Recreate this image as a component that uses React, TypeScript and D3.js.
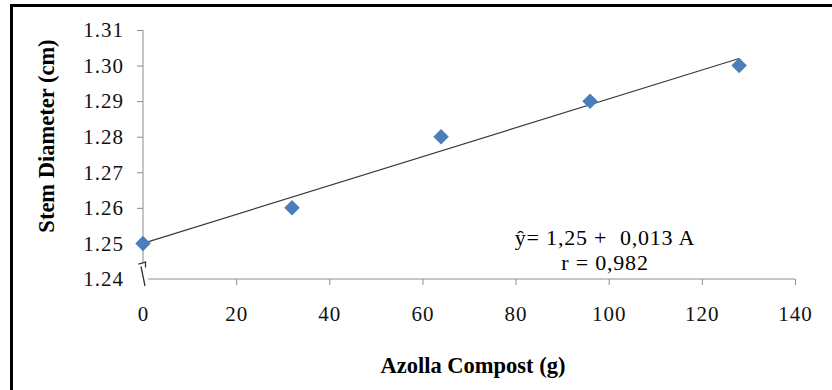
import React, { useEffect, useRef } from 'react';
import * as d3 from 'd3';

// Azolla compost dose (g) vs stem diameter (cm)
const compost = [0, 32, 64, 96, 128];
const stemDiameter = [1.25, 1.26, 1.28, 1.29, 1.3];
const xTicks = [0, 20, 40, 60, 80, 100, 120, 140];
const yTicks = [1.24, 1.25, 1.26, 1.27, 1.28, 1.29, 1.3, 1.31];
const equationLines = ['ŷ= 1,25 +  0,013 A', 'r = 0,982'];

const W = 832;
const H = 390;

const App: React.FC = () => {
  const svgRef = useRef<SVGSVGElement>(null);

  useEffect(() => {
    document.body.style.margin = '0';
    if (!svgRef.current) return;
    const svg = d3.select(svgRef.current);
    svg.selectAll('*').remove();

    const x = d3.scaleLinear().domain([0, 140]).range([143, 795]);
    const y = d3.scaleLinear().domain([1.24, 1.31]).range([279, 30]);
    const axisColor = '#8c8c8c';
    const font = '"Liberation Serif", "Times New Roman", serif';

    svg.append('rect').attr('width', W).attr('height', H).attr('fill', '#fff');

    // frame (top and left edges only)
    svg.append('line').attr('x1', 10).attr('x2', W).attr('y1', 5.5).attr('y2', 5.5)
      .attr('stroke', '#000').attr('stroke-width', 3);
    svg.append('line').attr('x1', 11.5).attr('x2', 11.5).attr('y1', 4).attr('y2', H)
      .attr('stroke', '#000').attr('stroke-width', 3);

    // y axis
    const yAxis = svg.append('g')
      .attr('transform', `translate(${x(0)},0)`)
      .call(d3.axisLeft(y).tickValues(yTicks).tickFormat(d3.format('.2f')).tickSize(6).tickPadding(13));
    yAxis.select('.domain').remove();
    yAxis.selectAll('.tick line').attr('stroke', axisColor)
      .filter((d: any) => d === 1.24).remove();
    yAxis.selectAll('.tick text').attr('fill', '#111')
      .style('font-family', font).style('font-size', '21px').style('letter-spacing', '1px');
    yAxis.append('line').attr('x1', 0).attr('x2', 0).attr('y1', y(1.31)).attr('y2', 262)
      .attr('stroke', axisColor);

    // x axis
    const xAxis = svg.append('g')
      .attr('transform', `translate(0,${y(1.24)})`)
      .call(d3.axisBottom(x).tickValues(xTicks).tickSize(6).tickPadding(21));
    xAxis.select('.domain').remove();
    xAxis.selectAll('.tick line').attr('stroke', axisColor)
      .filter((d: any) => d === 0).remove();
    xAxis.selectAll('.tick text').attr('fill', '#111')
      .style('font-family', font).style('font-size', '21px').style('letter-spacing', '1px');
    xAxis.append('line').attr('x1', 148).attr('x2', x(140)).attr('y1', 0).attr('y2', 0)
      .attr('stroke', axisColor);

    // axis break mark
    svg.append('path')
      .attr('d', 'M138.5,264 L145.5,262 L145.5,267.5 M141,266.5 L145,286')
      .attr('fill', 'none').attr('stroke', '#333').attr('stroke-width', 1.3);

    // linear trend line from least squares
    const mx = d3.mean(compost) as number;
    const my = d3.mean(stemDiameter) as number;
    const sxy = d3.sum(compost, (v, i) => (v - mx) * (stemDiameter[i] - my));
    const sxx = d3.sum(compost, v => (v - mx) * (v - mx));
    const slope = sxy / sxx;
    const intercept = my - slope * mx;
    const ext = d3.extent(compost) as [number, number];
    svg.append('line')
      .attr('x1', x(ext[0])).attr('y1', y(intercept + slope * ext[0]))
      .attr('x2', x(ext[1])).attr('y2', y(intercept + slope * ext[1]))
      .attr('stroke', '#3a3a3a').attr('stroke-width', 1.2);

    // diamonds
    const diamond = d3.symbol().type(d3.symbolSquare).size(120);
    svg.selectAll('.pt')
      .data(compost)
      .enter()
      .append('path')
      .attr('class', 'pt')
      .attr('d', diamond as any)
      .attr('transform', (d, i) => `translate(${x(d)},${y(stemDiameter[i])}) rotate(45)`)
      .attr('fill', '#4a7ebb');

    // equation
    svg.append('text')
      .attr('x', 605)
      .attr('text-anchor', 'middle')
      .style('font-family', font)
      .style('font-size', '22px')
      .style('letter-spacing', '0.8px')
      .style('white-space', 'pre')
      .attr('fill', '#000')
      .selectAll('tspan')
      .data(equationLines)
      .enter()
      .append('tspan')
      .attr('x', 605)
      .attr('y', (d, i) => 245 + i * 25)
      .text(d => d);

    // axis titles
    svg.append('text')
      .attr('x', 473).attr('y', 373)
      .attr('text-anchor', 'middle')
      .style('font-family', font).style('font-size', '22.5px').style('font-weight', 'bold')
      .attr('fill', '#000')
      .text('Azolla Compost (g)');

    svg.append('text')
      .attr('transform', 'translate(54,136) rotate(-90)')
      .attr('text-anchor', 'middle')
      .style('font-family', font).style('font-size', '22.5px').style('font-weight', 'bold')
      .attr('fill', '#000')
      .text('Stem Diameter (cm)');
  }, []);

  return <svg ref={svgRef} width={W} height={H} style={{ display: 'block' }} />;
};

export default App;
